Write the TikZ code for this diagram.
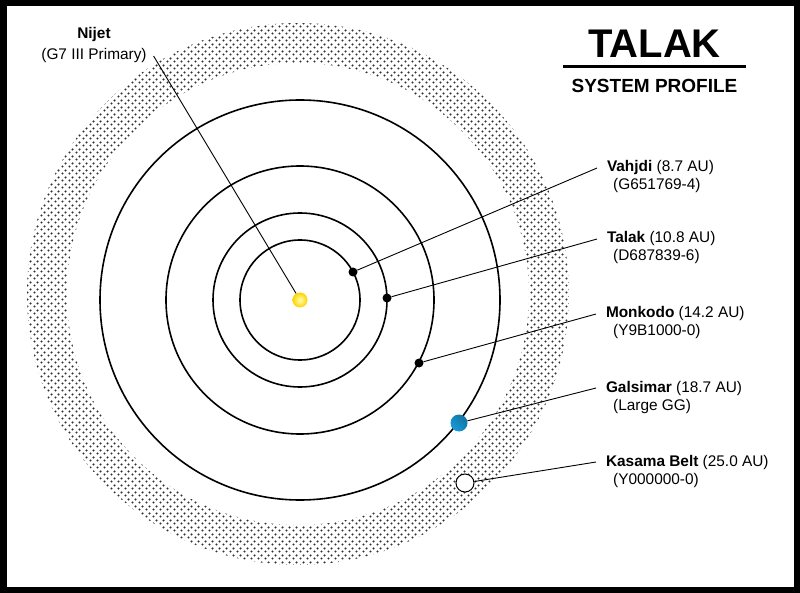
\documentclass[tikz,border=0pt]{standalone}
\usepackage{fontspec}
\setmainfont{Liberation Sans}
\usepackage{tikz}
\usetikzlibrary{patterns, positioning}
\definecolor{gasblue}{RGB}{24, 154, 216}
\definecolor{sunyellow}{RGB}{255, 210, 0}
\pgfdeclarepatternformonly{beltdots}{\pgfqpoint{0pt}{0pt}}{\pgfqpoint{6.5pt}{6.5pt}}{\pgfqpoint{6.5pt}{6.5pt}}{%
    \pgfpathcircle{\pgfqpoint{1.625pt}{1.625pt}}{1.3pt}%
    \pgfpathcircle{\pgfqpoint{4.875pt}{4.875pt}}{1.3pt}%
    \pgfusepath{fill}}

\begin{document}
\begin{tikzpicture}[x=1pt, y=-1pt, font=\fontsize{15.4}{18}\selectfont]
    \tikzstyle{orbit} = [line width=1.6pt]
    \tikzstyle{world} = [circle, fill=black, inner sep=0pt, minimum size=9pt]
    \tikzstyle{tag} = [anchor=base west, inner sep=1pt, outer xsep=9pt]
    \tikzstyle{code} = [anchor=base west, inner sep=1pt]
    \tikzstyle{leader} = [line width=0.9pt]

    \useasboundingbox (0,0) rectangle (800,593);
    \fill [pattern=beltdots, pattern color=black!80, even odd rule] (298,294) circle (271) (298,294) circle (231);

    \foreach \r in {60, 87, 134, 200}
        \draw [orbit] (300,300) circle (\r);

    \node (nijet) [circle, inner sep=0pt, minimum size=15pt, inner color=yellow!30, outer color=sunyellow] at (300,300) {};
    \node (vahjdi) [world] at (353,272) {};
    \node (talak) [world] at (387,298) {};
    \node (monkodo) [world] at (419,363) {};
    \node (galsimar) [circle, inner sep=0pt, minimum size=17pt, left color=gasblue, right color=gasblue!75!black, shading angle=135] at (459,423) {};
    \node (kasama) [circle, draw, fill=white, line width=1pt, inner sep=0pt, minimum size=18pt] at (465,483) {};

    \node (nijetName) [anchor=base, inner sep=1pt] at (94,39) {\textbf{Nijet}};
    \node (nijetType) [anchor=base, inner sep=1pt, outer xsep=6pt] at (94,60) {(G7 III Primary)};

    \node (vahjdiTag) [tag] at (597,172) {\textbf{Vahjdi} (8.7 AU)};
    \node (vahjdiCode) [code] at ([xshift=15pt, yshift=-18pt]vahjdiTag.base west) {(G651769-4)};
    \node (talakTag) [tag] at (597,243) {\textbf{Talak} (10.8 AU)};
    \node (talakCode) [code] at ([xshift=15pt, yshift=-18pt]talakTag.base west) {(D687839-6)};
    \node (monkodoTag) [tag] at (596,318) {\textbf{Monkodo} (14.2 AU)};
    \node (monkodoCode) [code] at ([xshift=16pt, yshift=-18pt]monkodoTag.base west) {(Y9B1000-0)};
    \node (galsimarTag) [tag] at (596,392) {\textbf{Galsimar} (18.7 AU)};
    \node (galsimarCode) [code] at ([xshift=16pt, yshift=-18pt]galsimarTag.base west) {(Large GG)};
    \node (kasamaTag) [tag] at (596,466) {\textbf{Kasama Belt} (25.0 AU)};
    \node (kasamaCode) [code] at ([xshift=16pt, yshift=-18pt]kasamaTag.base west) {(Y000000-0)};

    \draw [leader] (nijetType.east) -- (nijet);
    \draw [leader] (vahjdi) -- (vahjdiTag.west);
    \draw [leader] (talak) -- (talakTag.west);
    \draw [leader] (monkodo) -- (monkodoTag.west);
    \draw [leader] (galsimar) -- (galsimarTag.west);
    \draw [leader] (kasama) -- (kasamaTag.west);

    \node (title) [anchor=base, minimum width=183pt, inner sep=0pt, font=\fontsize{40}{40}\selectfont\bfseries] at (654.5,58) {TALAK};
    \draw [line width=3pt] ([yshift=-9pt]title.base west) -- ([yshift=-9pt]title.base east);
    \node (subtitle) [anchor=base, inner sep=0pt, font=\fontsize{19}{19}\selectfont\bfseries] at (654.5,93) {SYSTEM PROFILE};

    \draw [line width=6.5pt] (3.25,3.25) rectangle (796.75,589.75);
\end{tikzpicture}
\end{document}
